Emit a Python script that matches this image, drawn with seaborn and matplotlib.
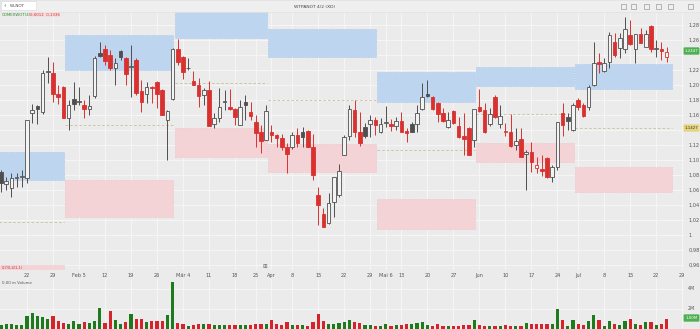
import numpy as np
import pandas as pd
import matplotlib
matplotlib.use("Agg")
import matplotlib.pyplot as plt
import seaborn as sns
from matplotlib.patches import Rectangle, FancyBboxPatch

# ---------------- data ----------------
opens = [1.084, 1.068, 1.063, 1.076, 1.077, 1.076, 1.163, 1.172, 1.164, 1.217,
         1.216, 1.188, 1.197, 1.156, 1.181, 1.177, 1.173, 1.168, 1.185, 1.243,
         1.248, 1.240, 1.223, 1.245, 1.236, 1.224, 1.233, 1.192, 1.188, 1.197,
         1.204, 1.193, 1.153, 1.181, 1.248, 1.237, 1.222, 1.205, 1.200, 1.187,
         1.193, 1.148, 1.156, 1.177, 1.171, 1.168, 1.147, 1.177, 1.164, 1.151,
         1.137, 1.127, 1.137, 1.133, 1.129, 1.117, 1.117, 1.133, 1.137, 1.139,
         1.117, 1.053, 1.028, 1.016, 1.044, 1.053, 1.107, 1.132, 1.167, 1.137,
         1.144, 1.148, 1.153, 1.137, 1.149, 1.148, 1.145, 1.152, 1.139, 1.148,
         1.148, 1.168, 1.188, 1.184, 1.176, 1.163, 1.144, 1.165, 1.145, 1.132,
         1.143, 1.127, 1.171, 1.167, 1.148, 1.184, 1.148, 1.137, 1.137, 1.120,
         1.128, 1.108, 1.111, 1.089, 1.088, 1.103, 1.077, 1.091, 1.163, 1.157,
         1.140, 1.180, 1.173, 1.171, 1.200, 1.231, 1.219, 1.231, 1.257, 1.249,
         1.248, 1.267, 1.248, 1.268, 1.251, 1.279, 1.248, 1.248, 1.237]
highs = [1.087, 1.077, 1.083, 1.083, 1.087, 1.153, 1.175, 1.173, 1.220, 1.237,
         1.231, 1.200, 1.198, 1.180, 1.204, 1.197, 1.180, 1.187, 1.239, 1.257,
         1.253, 1.247, 1.236, 1.247, 1.237, 1.253, 1.236, 1.207, 1.204, 1.198,
         1.205, 1.194, 1.167, 1.249, 1.261, 1.238, 1.236, 1.219, 1.209, 1.196,
         1.205, 1.163, 1.196, 1.193, 1.195, 1.169, 1.180, 1.187, 1.177, 1.160,
         1.147, 1.173, 1.147, 1.135, 1.135, 1.123, 1.137, 1.143, 1.144, 1.140,
         1.135, 1.064, 1.036, 1.056, 1.077, 1.095, 1.133, 1.173, 1.180, 1.164,
         1.149, 1.160, 1.157, 1.156, 1.172, 1.155, 1.157, 1.164, 1.143, 1.151,
         1.173, 1.203, 1.207, 1.185, 1.177, 1.169, 1.164, 1.166, 1.157, 1.163,
         1.144, 1.168, 1.195, 1.176, 1.169, 1.187, 1.173, 1.149, 1.161, 1.143,
         1.143, 1.113, 1.124, 1.104, 1.107, 1.104, 1.093, 1.151, 1.176, 1.163,
         1.176, 1.183, 1.176, 1.200, 1.257, 1.243, 1.236, 1.271, 1.269, 1.269,
         1.291, 1.287, 1.268, 1.276, 1.273, 1.280, 1.260, 1.257, 1.251]
lows = [1.057, 1.060, 1.051, 1.064, 1.064, 1.069, 1.149, 1.148, 1.161, 1.203,
        1.177, 1.175, 1.156, 1.140, 1.167, 1.173, 1.156, 1.160, 1.183, 1.237,
        1.227, 1.220, 1.200, 1.233, 1.200, 1.184, 1.187, 1.164, 1.176, 1.176,
        1.169, 1.160, 1.100, 1.180, 1.227, 1.208, 1.220, 1.200, 1.171, 1.173,
        1.145, 1.143, 1.151, 1.167, 1.167, 1.147, 1.146, 1.153, 1.153, 1.117,
        1.109, 1.126, 1.124, 1.117, 1.113, 1.083, 1.115, 1.117, 1.117, 1.117,
        1.073, 1.013, 1.011, 1.015, 1.024, 1.051, 1.106, 1.127, 1.131, 1.119,
        1.129, 1.131, 1.133, 1.136, 1.144, 1.139, 1.140, 1.137, 1.124, 1.137,
        1.137, 1.167, 1.184, 1.167, 1.151, 1.151, 1.143, 1.148, 1.129, 1.107,
        1.107, 1.117, 1.164, 1.136, 1.145, 1.156, 1.143, 1.132, 1.117, 1.113,
        1.104, 1.060, 1.084, 1.083, 1.079, 1.076, 1.071, 1.087, 1.132, 1.140,
        1.139, 1.167, 1.157, 1.167, 1.199, 1.216, 1.217, 1.223, 1.237, 1.236,
        1.243, 1.253, 1.229, 1.256, 1.250, 1.244, 1.237, 1.233, 1.231]
closes = [1.069, 1.072, 1.076, 1.077, 1.078, 1.153, 1.167, 1.168, 1.216, 1.217,
          1.188, 1.184, 1.156, 1.173, 1.174, 1.177, 1.168, 1.172, 1.236, 1.239,
          1.232, 1.223, 1.229, 1.237, 1.215, 1.224, 1.189, 1.177, 1.197, 1.196,
          1.188, 1.160, 1.165, 1.248, 1.231, 1.217, 1.222, 1.200, 1.185, 1.193,
          1.145, 1.156, 1.171, 1.177, 1.168, 1.157, 1.171, 1.173, 1.159, 1.136,
          1.125, 1.165, 1.133, 1.129, 1.117, 1.108, 1.133, 1.123, 1.131, 1.117,
          1.080, 1.040, 1.011, 1.043, 1.077, 1.085, 1.131, 1.168, 1.137, 1.123,
          1.132, 1.153, 1.147, 1.148, 1.149, 1.145, 1.152, 1.137, 1.136, 1.137,
          1.163, 1.184, 1.185, 1.168, 1.161, 1.152, 1.153, 1.149, 1.131, 1.128,
          1.107, 1.168, 1.165, 1.137, 1.161, 1.157, 1.158, 1.137, 1.119, 1.125,
          1.104, 1.111, 1.097, 1.093, 1.085, 1.077, 1.091, 1.151, 1.147, 1.152,
          1.173, 1.171, 1.159, 1.197, 1.229, 1.228, 1.229, 1.267, 1.240, 1.263,
          1.275, 1.255, 1.268, 1.256, 1.268, 1.248, 1.249, 1.245, 1.244]
volumes = [0.33, 0.50, 0.43, 0.33, 0.40, 1.23, 1.57, 1.23, 1.17, 0.93,
           1.27, 0.77, 0.57, 0.50, 0.77, 0.50, 0.67, 0.57, 0.77, 2.07,
           0.57, 1.77, 0.83, 0.50, 0.63, 1.50, 0.97, 0.97, 0.67, 0.80,
           0.80, 0.80, 1.40, 4.67, 0.57, 0.50, 0.30, 0.33, 0.43, 0.43,
           0.50, 0.40, 0.33, 0.33, 0.33, 0.33, 0.33, 0.33, 0.40, 0.43,
           0.50, 0.50, 0.83, 0.50, 0.40, 0.63, 0.40, 0.40, 0.33, 0.30,
           0.63, 1.43, 0.73, 0.50, 0.50, 0.57, 0.67, 0.83, 0.67, 0.57,
           0.33, 0.33, 0.30, 0.30, 0.43, 0.30, 0.33, 0.33, 0.43, 0.50,
           0.57, 0.63, 0.40, 0.30, 0.47, 0.30, 0.30, 0.30, 0.30, 0.33,
           0.33, 0.90, 0.33, 0.30, 0.30, 0.30, 0.30, 0.37, 0.30, 0.30,
           0.30, 0.60, 0.43, 0.43, 0.43, 0.43, 0.43, 2.00, 0.90, 0.30,
           0.83, 0.43, 0.33, 0.77, 1.33, 0.90, 0.30, 0.80, 0.43, 0.33,
           0.77, 0.97, 0.43, 0.33, 0.67, 0.67, 0.33, 0.43, 1.00]

# monthly zones (first candle index of each period)
zone_start = [0, 13, 34, 52, 73, 92, 111]
blue_top = [1.111, 1.267, 1.299, 1.275, 1.217, 1.224, 1.228]
blue_bot = [1.073, 1.220, 1.263, 1.237, 1.177, 1.199, 1.195]
pink_top = [0.960, 1.073, 1.143, 1.121, 1.048, 1.123, 1.091]
pink_bot = [0.920, 1.024, 1.104, 1.084, 1.008, 1.097, 1.057]
mid_line = [1.017, 1.147, 1.203, 1.180, 1.113, 1.161, 1.143]

date_tick_pos = [5, 10, 15, 20, 25, 30, 35, 40, 45, 49, 52, 56, 61, 66, 71,
                 74, 77, 82, 87, 92, 97, 102, 107, 111, 116, 121, 126, 131]
date_tick_labels = ["22", "29", "Feb 5", "12", "19", "26", "Mär 4", "11", "18",
                    "25", "Apr", "8", "15", "22", "29", "Mai 6", "13", "20", "27",
                    "Jun", "10", "17", "24", "Jul", "8", "15", "22", "29"]
price_ticks = [0.96, 0.98, 1.00, 1.02, 1.04, 1.06, 1.08, 1.10, 1.12, 1.14,
               1.16, 1.18, 1.20, 1.22, 1.24, 1.26, 1.28]
# labels hidden behind the price badges in the reference
price_labels = ["0,96", "0,98", "1", "1,02", "1,04", "1,06", "1,08", "1,10", "1,12",
                "", "1,16", "1,18", "1,20", "1,22", "", "1,26", "1,28"]

# ---------------- styling ----------------
BG = "#ebebeb"
GRID = "#f6f6f6"
RED = "#d9312f"
DARK = "#4f4f4f"
GREEN_V = "#1d7a1d"
RED_V = "#d6222a"

sns.set_theme(style="white")
plt.rcParams["font.family"] = ["DejaVu Sans"]

W, H = 700, 329
fig = plt.figure(figsize=(7, 3.29), dpi=100)
fig.patch.set_facecolor(BG)

def fx(px):
    return px / W

def fy(py):
    return 1 - py / H

XR = 684
ax = fig.add_axes([0, fy(270), fx(XR), fy(12) - fy(270)])
axv = fig.add_axes([0, fy(328.5), fx(XR), fy(279) - fy(328.5)])

n = len(opens)
idx = np.arange(n)
xlim = (-1 / 5.2, (XR - 1) / 5.2)

for a in (ax, axv):
    a.set_facecolor(BG)
    a.set_xlim(*xlim)
    for s in a.spines.values():
        s.set_visible(False)

# grid / ticks
ax.set_ylim(0.9533, 1.2973)
ax.set_yticks(price_ticks)
ax.set_xticks(date_tick_pos)
ax.grid(True, color=GRID, lw=0.7)
ax.set_axisbelow(True)
ax.yaxis.tick_right()
ax.set_yticklabels(price_labels)
ax.tick_params(axis="y", length=0, pad=3, labelsize=3.6, labelcolor="#555555")
ax.set_xticklabels(date_tick_labels)
ax.tick_params(axis="x", length=0, pad=2.2, labelsize=3.6, labelcolor="#555555")

# zones
ends = zone_start[1:] + [n + 0.1]
for k in range(len(zone_start)):
    x0 = zone_start[k] - 0.6
    x1 = ends[k] - 0.9 if k < len(zone_start) - 1 else n - 0.05
    ax.add_patch(Rectangle((x0, blue_bot[k]), x1 - x0, blue_top[k] - blue_bot[k],
                           facecolor="#bdd5ef", edgecolor="#a9c7ea", lw=0.5,
                           ls=(0, (2, 1.5)), zorder=1))
    ax.add_patch(Rectangle((x0, pink_bot[k]), x1 - x0, pink_top[k] - pink_bot[k],
                           facecolor="#f4d3d7", edgecolor="#efc2c8", lw=0.5,
                           ls=(0, (2, 1.5)), zorder=1))
    ax.plot([x0, x1], [mid_line[k], mid_line[k]], color="#c9bf98", lw=0.6,
            ls=(0, (3, 2.5)), zorder=1.5)

# candles
prev_close = [closes[0]] + closes[:-1]
for i in range(n):
    o, h, l, c = opens[i], highs[i], lows[i], closes[i]
    col = RED if c < prev_close[i] else DARK
    filled = c < o
    ax.vlines(i, l, h, color=col, lw=0.7, zorder=3)
    bot = min(o, c)
    ht = max(abs(c - o), 0.0012)
    ax.bar(i, ht, bottom=bot, width=0.68,
           color=col if filled else "#f3f3f3", edgecolor=col, linewidth=0.6,
           zorder=4)

# volume
vdf = pd.DataFrame({
    "i": idx,
    "vol": volumes,
    "dir": ["up" if closes[i] >= prev_close[i] else "down" for i in range(n)],
})
sns.barplot(data=vdf, x="i", y="vol", hue="dir", native_scale=True,
            palette={"up": GREEN_V, "down": RED_V}, saturation=1, width=0.62,
            legend=False, ax=axv, linewidth=0)
axv.set_xlim(*xlim)
axv.set_ylim(0, 4.95)
axv.set_xticks(date_tick_pos)
axv.set_xticklabels([])
axv.set_yticks([2, 4])
axv.yaxis.tick_right()
axv.set_yticklabels(["2M", "4M"])
axv.tick_params(axis="y", length=0, pad=3, labelsize=3.4, labelcolor="#555555")
axv.tick_params(axis="x", length=0)
axv.set_xlabel("")
axv.set_ylabel("")
axv.grid(True, color=GRID, lw=0.7)
axv.set_axisbelow(True)

# ---------------- chrome / texts ----------------
fig.patches.append(Rectangle((0, fy(11.5)), 1, 1 - fy(11.5), transform=fig.transFigure,
                             facecolor="#efefef", edgecolor="#dddddd", lw=0.4, zorder=0))
fig.patches.append(FancyBboxPatch((fx(2), fy(10)), fx(34), fy(2) - fy(10),
                                  boxstyle="round,pad=0.001", transform=fig.transFigure,
                                  facecolor="white", edgecolor="#d5d5d5", lw=0.4))
fig.text(fx(4), fy(6.2), "‹", fontsize=4.5, color="#444444", va="center")
fig.text(fx(10), fy(6), "WLNOT", fontsize=3, color="#444444", va="center")
fig.text(fx(315), fy(7), "WTPANOT 4/2 (XD)", fontsize=3.2, color="#444444",
         ha="center", va="center")
for px in (621, 631, 644, 656, 668, 688):
    fig.patches.append(Rectangle((fx(px), fy(9)), fx(5), fy(4) - fy(9),
                                 transform=fig.transFigure, facecolor="none",
                                 edgecolor="#888888", lw=0.4))
fig.text(fx(2), fy(14.5), "COMEXWOT(4)", fontsize=2.8, color="#2e8b2e", va="center")
fig.text(fx(30), fy(14.5), "0,0012  0,1336", fontsize=2.8, color="#d03030",
         va="center", bbox=dict(boxstyle="square,pad=0.05", fc="#f7dede", ec="none"))
fig.text(fx(2), fy(268), "0,7/0,4(1,1)", fontsize=2.6, color="#d03030", va="center")
fig.text(fx(2), fy(283), "0,00 m Volume", fontsize=2.8, color="#555555", va="center")
fig.text(fx(265), fy(266.5), "⊞", fontsize=4, color="#666666", ha="center", va="center")

def badge(py, txt, fc, tc):
    fig.patches.append(FancyBboxPatch((fx(685), fy(py + 3)), fx(13), fy(py - 3) - fy(py + 3),
                                      boxstyle="round,pad=0.002", transform=fig.transFigure,
                                      facecolor=fc, edgecolor="none", zorder=5))
    fig.text(fx(691.5), fy(py), txt, fontsize=2.8, color=tc, ha="center", va="center",
             zorder=6)

badge(51, "1,2447", "#4caf50", "white")
badge(128, "1,1427", "#e6d47c", "#333333")
badge(318, "1,00M", "#4caf50", "white")

fig.savefig("out.png", dpi=100, facecolor=BG)
